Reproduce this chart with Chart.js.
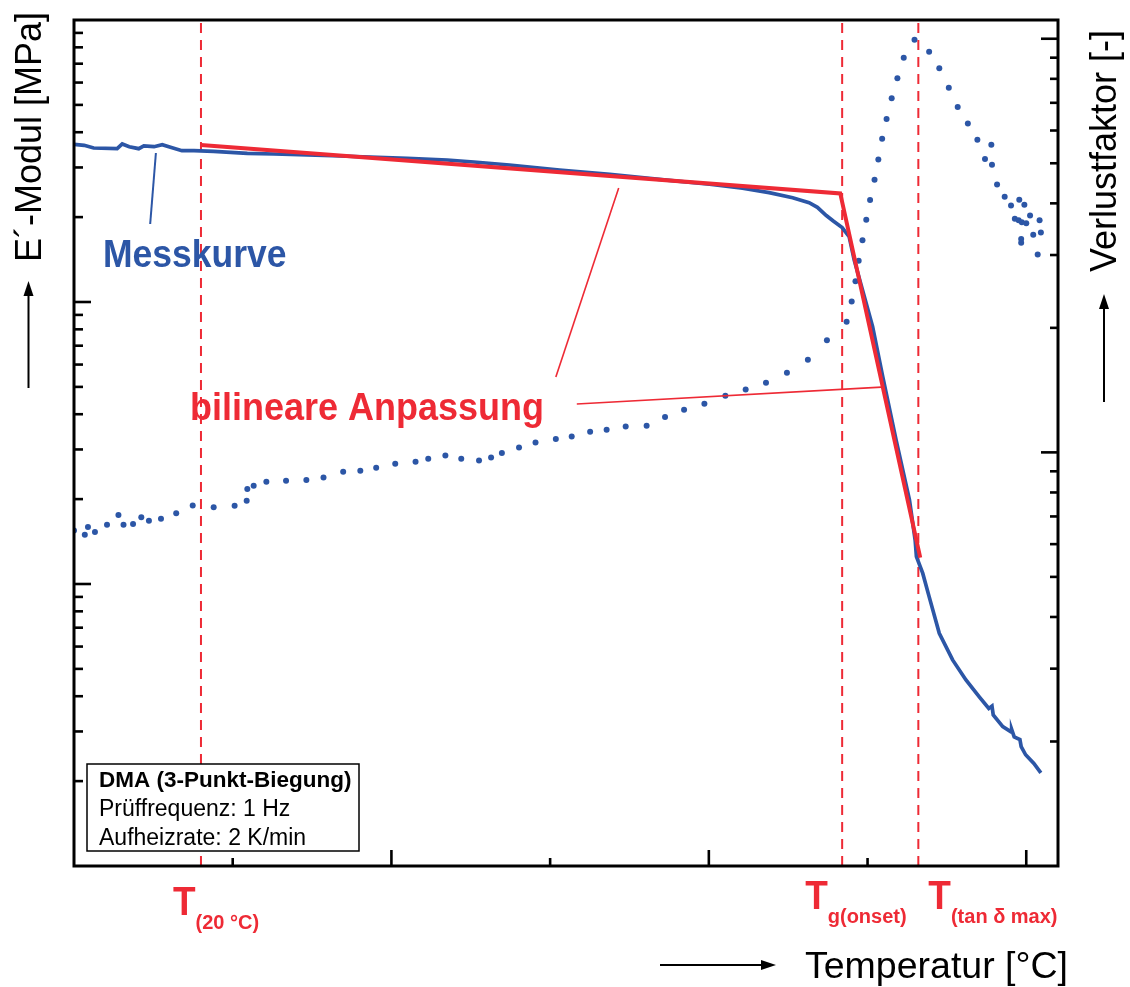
<!DOCTYPE html>
<html>
<head>
<meta charset="utf-8">
<script src="https://cdn.jsdelivr.net/npm/chart.js@4/dist/chart.umd.min.js"></script>
<style>
  html, body { margin: 0; padding: 0; background: #fff; }
  canvas { display: block; }
</style>
</head>
<body>
<canvas id="dma" width="1130" height="987"></canvas>
<script>
// DMA chart: storage modulus (log) and loss factor (log) over temperature

// Storage modulus E' [MPa], solid curve
const tempE = [0, 1.6, 3.1, 6.8, 7.6, 8.7, 10.2, 11.0, 12.6, 13.9,
	15.2, 17.0, 18.9, 22.0, 27.3, 31.5, 42.0, 52.5, 58.8, 63.0,
	68.6, 76.5, 84.4, 92.2, 100.1, 105.3, 109.5, 113.2, 115.8, 117.1,
	118.5, 119.6, 121.0, 122.1, 122.9, 124.5, 125.8, 127.4, 129.5, 131.6,
	132.5, 132.7, 133.7, 134.7, 136.3, 138.4, 140.5, 142.6, 144.1, 144.6,
	144.8, 146.3, 147.6, 147.7, 148.1, 149.0, 149.2, 149.9, 151.2, 152.3];
const modulusE = [3624, 3595, 3517, 3497, 3633, 3554, 3497, 3575, 3554, 3612,
	3537, 3440, 3440, 3423, 3368, 3348, 3294, 3233, 3188, 3137,
	3061, 2939, 2837, 2723, 2615, 2531, 2442, 2344, 2250, 2167,
	2026, 1937, 1837, 1704, 1409, 1044, 817, 543, 324, 199,
	143, 125, 109, 90.2, 66.9, 53.8, 45.7, 39.8, 36.2, 36.9,
	34.3, 31.2, 29.9, 30.5, 28.7, 28.1, 26.5, 24.8, 23.1, 21.4];

// Loss factor tan delta [-], dotted
const tempTan = [0.0, 1.7, 2.2, 3.3, 5.2, 7.0, 7.8, 9.3, 10.6, 11.8,
	13.7, 16.1, 18.7, 22.0, 25.3, 27.2, 27.3, 28.3, 30.3, 33.4,
	36.6, 39.3, 42.4, 45.1, 47.6, 50.6, 53.8, 55.8, 58.5, 61.0,
	63.8, 65.7, 67.4, 70.1, 72.7, 75.9, 78.4, 81.3, 83.9, 86.9,
	90.2, 93.1, 96.1, 99.3, 102.6, 105.8, 109.0, 112.3, 115.6, 118.6,
	121.7, 122.5, 123.1, 123.6, 124.2, 124.8, 125.4, 126.1, 126.7, 127.3,
	128.0, 128.8, 129.7, 130.7, 132.4, 134.7, 136.3, 137.8, 139.2, 140.8,
	142.3, 144.5, 143.5, 144.6, 145.4, 146.6, 147.6, 148.9, 149.7, 148.2,
	148.8, 149.3, 150.6, 150.0, 152.1, 149.2, 149.2, 151.1, 152.3, 151.8];
const lossTan = [0.0647, 0.0632, 0.066, 0.0642, 0.0668, 0.0706, 0.0668, 0.0671, 0.0697, 0.0683,
	0.0691, 0.0713, 0.0744, 0.0737, 0.0743, 0.0764, 0.0815, 0.083, 0.0849, 0.0854,
	0.0858, 0.087, 0.0898, 0.0903, 0.0918, 0.0938, 0.0949, 0.0965, 0.0983, 0.0965,
	0.0956, 0.0972, 0.0996, 0.1028, 0.1057, 0.1077, 0.1093, 0.1121, 0.1134, 0.1155,
	0.1159, 0.1217, 0.1268, 0.1311, 0.1371, 0.142, 0.1474, 0.1558, 0.1675, 0.1867,
	0.207, 0.2317, 0.2594, 0.2904, 0.3256, 0.3649, 0.4076, 0.4563, 0.5109, 0.5728,
	0.640, 0.718, 0.803, 0.899, 0.994, 0.930, 0.849, 0.761, 0.684, 0.624,
	0.570, 0.554, 0.512, 0.496, 0.444, 0.415, 0.395, 0.408, 0.397, 0.367,
	0.364, 0.360, 0.374, 0.358, 0.364, 0.328, 0.321, 0.336, 0.340, 0.301];

// bilinear fit (two segments)
const fitTemp = [20, 120.7, 133.3];
const fitModulus = [3603, 2427, 124];

// characteristic temperatures (dashed markers)
const markerTemps = [20, 121.0, 133.0];
const markerMain = ['T', 'T', 'T'];
const markerSub = ['(20 \u00b0C)', 'g(onset)', '(tan \u03b4 max)'];

// leader lines for the labels [temp, modulus]
const leaderMess = [[12.0, 1890], [12.9, 3376]];
const leaderFitA = [[75.9, 542], [85.8, 2537]];
const leaderFitB = [[79.2, 435], [127.2, 499]];

// axis ranges / ticks
const tempRange = [0, 155];
const modulusRange = [10, 10000];
const tanRange = [0.01, 1.11];
const tempTicks = [25, 50, 75, 100, 125, 150];

const BLUE = '#2c56a6';
const RED = '#ee2a35';
const FONT = '"Liberation Sans", Arial, Helvetica, sans-serif';

const pts = (xs, ys) => xs.map((x, i) => ({ x, y: ys[i] }));
const pairs = list => list.map(([x, y]) => ({ x, y }));

const markerSets = markerTemps.map(t => ({
	data: [{ x: t, y: modulusRange[0] }, { x: t, y: modulusRange[1] }],
	yAxisID: 'y',
	borderColor: RED,
	borderWidth: 2,
	borderDash: [10, 7],
	pointRadius: 0
}));

const line = (ctx, x1, y1, x2, y2) => {
	ctx.beginPath();
	ctx.moveTo(x1, y1);
	ctx.lineTo(x2, y2);
	ctx.stroke();
};

const arrow = (ctx, x1, y1, x2, y2) => {
	const a = Math.atan2(y2 - y1, x2 - x1);
	const hl = 15, hw = 5;
	ctx.lineWidth = 2;
	line(ctx, x1, y1, x2 - hl * 0.6 * Math.cos(a), y2 - hl * 0.6 * Math.sin(a));
	ctx.beginPath();
	ctx.moveTo(x2, y2);
	ctx.lineTo(x2 - hl * Math.cos(a) - hw * Math.sin(a), y2 - hl * Math.sin(a) + hw * Math.cos(a));
	ctx.lineTo(x2 - hl * Math.cos(a) + hw * Math.sin(a), y2 - hl * Math.sin(a) - hw * Math.cos(a));
	ctx.closePath();
	ctx.fill();
};

// text a bit taller than wide, like the original lettering
const tallText = (ctx, text, x, y, sy) => {
	ctx.save();
	ctx.translate(x, y);
	ctx.scale(1, sy);
	ctx.fillText(text, 0, 0);
	ctx.restore();
};

const decor = {
	id: 'decor',
	afterDraw(chart) {
		const { ctx, chartArea: area, scales } = chart;
		const { left, top, right, bottom } = area;
		ctx.save();
		ctx.strokeStyle = '#000';
		ctx.fillStyle = '#000';
		ctx.lineCap = 'butt';

		// inward ticks
		ctx.lineWidth = 2.6;
		[10, 100, 1000].forEach(d => {
			for (let m = 1; m <= 9; m++) {
				const v = m * d;
				if (v <= modulusRange[0] || v >= modulusRange[1]) continue;
				const y = scales.y.getPixelForValue(v);
				line(ctx, left, y, left + (m === 1 ? 17 : 9), y);
			}
		});
		[0.01, 0.1, 1].forEach(d => {
			for (let m = 1; m <= 9; m++) {
				const v = m * d;
				if (v <= tanRange[0] * 1.0001 || v >= tanRange[1]) continue;
				const y = scales.y2.getPixelForValue(v);
				line(ctx, right, y, right - (m === 1 ? 17 : 8), y);
			}
		});
		tempTicks.forEach(t => {
			const x = scales.x.getPixelForValue(t);
			line(ctx, x, bottom, x, bottom - (t % 50 === 0 ? 16 : 8));
		});

		// frame
		ctx.lineWidth = 3;
		ctx.strokeRect(left, top, right - left, bottom - top);

		// axis titles
		ctx.font = '36px ' + FONT;
		ctx.textBaseline = 'alphabetic';
		ctx.textAlign = 'left';
		ctx.save();
		ctx.translate(41, 262);
		ctx.rotate(-Math.PI / 2);
		ctx.fillText('E\u00b4-Modul [MPa]', 0, 0);
		ctx.restore();
		ctx.save();
		ctx.translate(1116, 272);
		ctx.rotate(-Math.PI / 2);
		ctx.fillText('Verlustfaktor [-]', 0, 0);
		ctx.restore();
		ctx.font = '37.5px ' + FONT;
		ctx.textAlign = 'right';
		ctx.fillText('Temperatur [\u00b0C]', 1068, 978);
		ctx.textAlign = 'left';

		arrow(ctx, 28.5, 388, 28.5, 281);
		arrow(ctx, 1104, 402, 1104, 294);
		arrow(ctx, 660, 965, 776, 965);

		// info box
		ctx.lineWidth = 1.5;
		ctx.fillStyle = '#fff';
		ctx.fillRect(87, 764, 272, 87);
		ctx.strokeRect(87, 764, 272, 87);
		ctx.fillStyle = '#000';
		ctx.font = 'bold 22.5px ' + FONT;
		ctx.fillText('DMA (3-Punkt-Biegung)', 99, 787);
		ctx.font = '23px ' + FONT;
		ctx.fillText('Pr\u00fcffrequenz: 1 Hz', 99, 816);
		ctx.fillText('Aufheizrate: 2 K/min', 99, 845);

		// curve labels
		ctx.fillStyle = BLUE;
		ctx.font = 'bold 35.5px ' + FONT;
		tallText(ctx, 'Messkurve', 103, 267, 1.1);
		ctx.fillStyle = RED;
		ctx.font = 'bold 36px ' + FONT;
		tallText(ctx, 'bilineare Anpassung', 190, 420, 1.1);

		// temperature marker labels
		const offs = [-28, -37, 10];
		const base = [915, 909, 909];
		markerTemps.forEach((t, i) => {
			const x = scales.x.getPixelForValue(t) + offs[i];
			ctx.font = 'bold 37px ' + FONT;
			tallText(ctx, markerMain[i], x, base[i], 1.08);
			const w = ctx.measureText(markerMain[i]).width;
			ctx.font = 'bold 20px ' + FONT;
			ctx.fillText(markerSub[i], x + w, base[i] + 14);
		});
		ctx.restore();
	}
};

new Chart(document.getElementById('dma'), {
	type: 'line',
	data: {
		datasets: [
			{
				data: pts(fitTemp, fitModulus),
				yAxisID: 'y',
				borderColor: RED,
				borderWidth: 4,
				pointRadius: 0
			},
			{
				data: pts(tempE, modulusE),
				yAxisID: 'y',
				borderColor: BLUE,
				borderWidth: 3.7,
				pointRadius: 0
			},
			...markerSets,
			{
				data: pairs(leaderFitA),
				yAxisID: 'y',
				borderColor: RED,
				borderWidth: 1.6,
				pointRadius: 0
			},
			{
				data: pairs(leaderFitB),
				yAxisID: 'y',
				borderColor: RED,
				borderWidth: 1.6,
				pointRadius: 0
			},
			{
				data: pairs(leaderMess),
				yAxisID: 'y',
				borderColor: BLUE,
				borderWidth: 2,
				pointRadius: 0
			},
			{
				data: pts(tempTan, lossTan),
				yAxisID: 'y2',
				showLine: false,
				pointRadius: 3,
				pointBorderWidth: 0,
				pointBackgroundColor: BLUE,
				borderColor: BLUE
			}
		]
	},
	options: {
		responsive: false,
		animation: false,
		devicePixelRatio: 1,
		layout: { padding: { left: 74, top: 20, right: 72, bottom: 121 } },
		elements: { line: { tension: 0 } },
		plugins: { legend: { display: false }, tooltip: { enabled: false } },
		scales: {
			x: { type: 'linear', min: tempRange[0], max: tempRange[1], display: false },
			y: { type: 'logarithmic', min: modulusRange[0], max: modulusRange[1], display: false },
			y2: { type: 'logarithmic', min: tanRange[0], max: tanRange[1], display: false, position: 'right' }
		}
	},
	plugins: [decor]
});
</script>
</body>
</html>
